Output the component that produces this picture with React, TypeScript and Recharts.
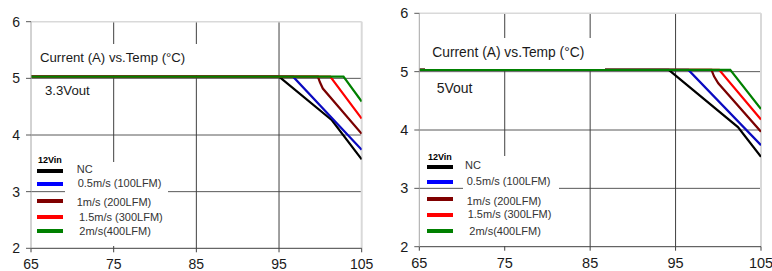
import React from 'react';
import { LineChart, Line, XAxis, YAxis, ReferenceLine } from 'recharts';

// ---------- data ----------
const xTicks = [65, 75, 85, 95, 105];
const yTicks = [2, 3, 4, 5, 6];
const seriesNames = ['NC', '0.5m/s (100LFM)', '1m/s (200LFM)', '1.5m/s (300LFM)', '2m/s(400LFM)'];
const lineColors = ['#000000', '#0a0ac0', '#7a0000', '#ff0000', '#008000'];
const swatchColors = ['#000000', '#0000ff', '#800000', '#ff0000', '#008000'];
const inputLabel = '12Vin';
const chartTitle = 'Current (A) vs.Temp (°C)';
const outLabels = ['3.3Vout', '5Vout'];

// 3.3Vout curves (temperature °C, current A)
const nc33 = [{ t: 65, a: 5.03 }, { t: 95, a: 5.03 }, { t: 101.4, a: 4.26 }, { t: 105, a: 3.57 }];
const lfm100v33 = [{ t: 65, a: 5.03 }, { t: 96.7, a: 5.03 }, { t: 105, a: 3.74 }];
const lfm200v33 = [{ t: 65, a: 5.03 }, { t: 99.7, a: 5.03 }, { t: 99.95, a: 4.93 }, { t: 100.3, a: 4.82 }, { t: 105, a: 4.02 }];
const lfm300v33 = [{ t: 65, a: 5.03 }, { t: 101.2, a: 5.03 }, { t: 105, a: 4.29 }];
const lfm400v33 = [{ t: 65, a: 5.03 }, { t: 102.8, a: 5.03 }, { t: 105, a: 4.59 }];

// 5Vout curves
const nc5 = [{ t: 65, a: 5.03 }, { t: 94.2, a: 5.03 }, { t: 102.3, a: 4.05 }, { t: 105, a: 3.54 }];
const lfm100v5 = [{ t: 65, a: 5.03 }, { t: 96.5, a: 5.03 }, { t: 105, a: 3.74 }];
const lfm200v5 = [{ t: 65, a: 5.03 }, { t: 99.2, a: 5.03 }, { t: 99.5, a: 4.92 }, { t: 100.0, a: 4.8 }, { t: 105, a: 3.97 }];
const lfm300v5 = [{ t: 65, a: 5.03 }, { t: 100.1, a: 5.03 }, { t: 105, a: 4.18 }];
const lfm400v5 = [{ t: 65, a: 5.03 }, { t: 101.4, a: 5.03 }, { t: 105, a: 4.36 }];

const series33 = [nc33, lfm100v33, lfm200v33, lfm300v33, lfm400v33];
const series5 = [nc5, lfm100v5, lfm200v5, lfm300v5, lfm400v5];

const FONT = '"Liberation Sans", Arial, sans-serif';

type PanelLayout = {
  left: number;
  width: number;
  height: number;
  margin: { top: number; right: number; bottom: number; left: number };
  yAxisWidth: number;
  tickFont: number;
  titleBox: { x: number; y: number; w: number; h: number };
  titleText: { x: number; cy: number; size: number };
  outText: { x: number; cy: number; size: number };
  legendBox: { x: number; y: number; w: number; h: number };
  header: { x: number; cy: number };
  swatch: { x: number; w: number; ys: number[] };
  texts: { xs: number[]; ys: number[] };
};

const layouts: PanelLayout[] = [
  {
    left: 0,
    width: 380,
    height: 271,
    margin: { top: 21.7, right: 18.3, bottom: 0, left: 0 },
    yAxisWidth: 31,
    tickFont: 14,
    titleBox: { x: 35, y: 44, w: 168, h: 31 },
    titleText: { x: 40, cy: 57.7, size: 13.2 },
    outText: { x: 45, cy: 91, size: 13.2 },
    legendBox: { x: 65, y: 162, w: 103, h: 84 },
    header: { x: 38, cy: 160 },
    swatch: { x: 37.3, w: 26, ys: [171, 184.3, 201, 216.7, 231] },
    texts: { xs: [76.7, 77.7, 76.7, 79, 79.3], ys: [169, 183.3, 201.7, 216.7, 231] },
  },
  {
    left: 386,
    width: 386,
    height: 271,
    margin: { top: 13.3, right: 11, bottom: 0, left: 0 },
    yAxisWidth: 33.3,
    tickFont: 14.5,
    titleBox: { x: 425, y: 38, w: 180, h: 31 },
    titleText: { x: 432.3, cy: 53.3, size: 13.8 },
    outText: { x: 436.7, cy: 88.3, size: 14 },
    legendBox: { x: 463, y: 156, w: 96, h: 90 },
    header: { x: 428, cy: 156.7 },
    swatch: { x: 426.7, w: 26.6, ys: [166.7, 181.7, 199.3, 215, 230.7] },
    texts: { xs: [465, 466.7, 466.7, 467.7, 469.3], ys: [165, 180.7, 200.7, 214, 230.7] },
  },
];

function Panel({ layout, series, outLabel }: { layout: PanelLayout; series: { t: number; a: number }[][]; outLabel: string }) {
  const xAxisHeight = layout.height - layout.margin.top - (layout.left === 0 ? 226.6 : 233.4);
  return (
    <div style={{ position: 'absolute', left: layout.left, top: 0 }}>
      <LineChart width={layout.width} height={layout.height} margin={layout.margin}>
        <XAxis
          type="number"
          dataKey="t"
          domain={[65, 105]}
          ticks={xTicks}
          allowDataOverflow
          height={xAxisHeight}
          tickSize={4}
          tickMargin={7}
          axisLine={{ stroke: '#404040', strokeWidth: 1 }}
          tickLine={{ stroke: '#404040' }}
          tick={{ fill: '#1a1a1a', fontSize: layout.tickFont, fontFamily: FONT }}
          interval={0}
        />
        <YAxis
          type="number"
          dataKey="a"
          domain={[2, 6]}
          ticks={yTicks}
          allowDataOverflow
          width={layout.yAxisWidth}
          tickSize={5}
          tickMargin={6}
          axisLine={{ stroke: '#a6a6a6', strokeWidth: 1 }}
          tickLine={{ stroke: '#595959' }}
          tick={{ fill: '#1a1a1a', fontSize: layout.tickFont, fontFamily: FONT }}
          interval={0}
        />
        {[3, 4, 5].map((v) => (
          <ReferenceLine key={'h' + v} y={v} stroke="#595959" strokeWidth={1} />
        ))}
        {[75, 85, 95].map((v) => (
          <ReferenceLine key={'v' + v} x={v} stroke="#404040" strokeWidth={1} />
        ))}
        <ReferenceLine y={6} stroke="#d9d9d9" strokeWidth={1.5} />
        <ReferenceLine x={105} stroke="#d9d9d9" strokeWidth={2} />
        {series.map((d, i) => (
          <Line
            key={seriesNames[i]}
            data={d}
            dataKey="a"
            type="linear"
            stroke={lineColors[i]}
            strokeWidth={2.2}
            dot={false}
            activeDot={false}
            isAnimationActive={false}
          />
        ))}
      </LineChart>
    </div>
  );
}

function Overlay({ layout, outLabel }: { layout: PanelLayout; outLabel: string }) {
  const t = layout.titleBox;
  const lb = layout.legendBox;
  return (
    <>
      <div style={{ position: 'absolute', left: t.x, top: t.y, width: t.w, height: t.h, background: '#fff' }} />
      <div
        style={{
          position: 'absolute',
          left: layout.titleText.x,
          top: layout.titleText.cy - 10,
          height: 20,
          lineHeight: '20px',
          fontSize: layout.titleText.size,
          fontFamily: FONT,
          color: '#1a1a1a',
          whiteSpace: 'nowrap',
        }}
      >
        {chartTitle}
      </div>
      <div
        style={{
          position: 'absolute',
          left: layout.outText.x,
          top: layout.outText.cy - 10,
          height: 20,
          lineHeight: '20px',
          fontSize: layout.outText.size,
          fontFamily: FONT,
          color: '#1a1a1a',
          whiteSpace: 'nowrap',
        }}
      >
        {outLabel}
      </div>
      <div style={{ position: 'absolute', left: lb.x, top: lb.y, width: lb.w, height: lb.h, background: '#fff' }} />
      <div
        style={{
          position: 'absolute',
          left: layout.header.x,
          top: layout.header.cy - 6,
          height: 12,
          lineHeight: '12px',
          fontSize: 9,
          fontWeight: 'bold',
          fontFamily: FONT,
          color: '#000',
          whiteSpace: 'nowrap',
        }}
      >
        {inputLabel}
      </div>
      {seriesNames.map((name, i) => (
        <React.Fragment key={name}>
          <div
            style={{
              position: 'absolute',
              left: layout.swatch.x,
              top: layout.swatch.ys[i] - 2,
              width: layout.swatch.w,
              height: 4,
              background: swatchColors[i],
            }}
          />
          <div
            style={{
              position: 'absolute',
              left: layout.texts.xs[i],
              top: layout.texts.ys[i] - 8,
              height: 16,
              lineHeight: '16px',
              fontSize: 11,
              fontFamily: FONT,
              color: '#333',
              whiteSpace: 'nowrap',
            }}
          >
            {name}
          </div>
        </React.Fragment>
      ))}
    </>
  );
}

export default function App() {
  return (
    <div
      style={{
        position: 'absolute',
        left: 0,
        top: 0,
        width: 772,
        height: 271,
        background: '#fff',
        overflow: 'hidden',
        fontFamily: FONT,
      }}
    >
      <Panel layout={layouts[0]} series={series33} outLabel={outLabels[0]} />
      <Panel layout={layouts[1]} series={series5} outLabel={outLabels[1]} />
      <Overlay layout={layouts[0]} outLabel={outLabels[0]} />
      <Overlay layout={layouts[1]} outLabel={outLabels[1]} />
    </div>
  );
}
